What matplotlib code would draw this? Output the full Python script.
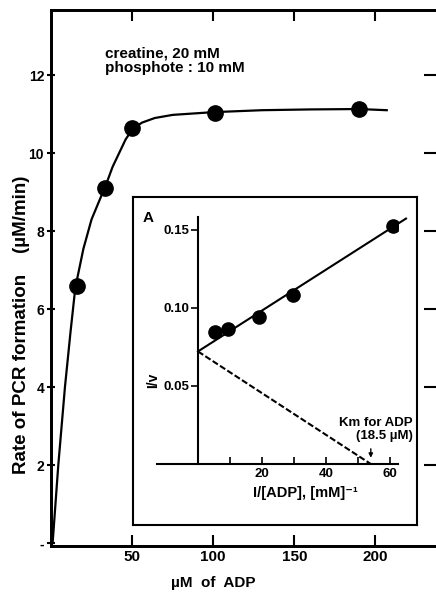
import matplotlib.pyplot as plt

plt.rcParams['font.family'] = ['Liberation Sans', 'DejaVu Sans']
plt.rcParams['font.weight'] = 'bold'

# main plot: rate vs ADP
adp_pts = [16, 33.5, 50, 101, 190]
rate_pts = [6.6, 9.1, 10.65, 11.03, 11.12]
curve_x = [1, 4.5, 8.6, 12, 15, 20, 25, 30, 34, 38, 42, 46, 50, 56, 64, 75, 100, 130, 160, 190, 207]
curve_y = [0, 2.0, 4.0, 5.4, 6.55, 7.55, 8.3, 8.8, 9.2, 9.65, 10.0, 10.35, 10.6, 10.78, 10.9, 10.98, 11.05, 11.1, 11.12, 11.13, 11.1]
x_ticks = [50, 100, 150, 200]
y_ticks = [0, 2, 4, 6, 8, 10, 12]
y_ticklabels = ['-', '2', '4', '6', '8', '10', '12']

# inset: double reciprocal plot
inv_adp = [5.4, 9.5, 19.2, 29.7, 61]
inv_v = [0.0846, 0.0865, 0.094, 0.108, 0.152]
fit_x = [0, 65]
fit_y = [0.072, 0.157]
km_x = [0, 54]
km_y = [0.072, 0]
inset_xticks = [10, 20, 30, 40, 50, 60]
inset_xticklabels = ['', '20', '', '40', '', '60']
inset_yticks = [0.05, 0.10, 0.15]
inset_yticklabels = ['0.05', '0.10', '0.15']

fig = plt.figure(figsize=(4.36, 5.93), dpi=100)
W, H = 436, 593

ax = fig.add_axes([51 / W, (H - 546) / H, (438 - 51) / W, (546 - 10) / H])
ax.plot(curve_x, curve_y, color='black', lw=1.6)
ax.plot(adp_pts, rate_pts, 'o', color='black', ms=11)
ax.set_xlim(0, 238.6)
ax.set_ylim(-0.077, 13.67)
ax.set_xticks(x_ticks)
ax.set_xticklabels([str(t) for t in x_ticks], fontsize=11, fontweight='bold')
ax.set_yticks(y_ticks)
ax.set_yticklabels(y_ticklabels, fontsize=10, fontweight='bold')
ax.tick_params(axis='x', direction='in', top=True, length=8, width=1.5, pad=3)
ax.tick_params(axis='y', direction='inout', length=6, width=1.5, pad=2)
for s in ax.spines.values():
    s.set_linewidth(2)

ax_r = ax.twinx()
ax_r.set_ylim(ax.get_ylim())
ax_r.set_yticks(y_ticks[1:])
ax_r.tick_params(axis='y', direction='in', length=10, width=1.5, labelright=False)
for s in ax_r.spines.values():
    s.set_linewidth(2)

ax.set_ylabel('Rate of PCR formation    (µM/min)', fontsize=13.5, fontweight='bold')
ax.yaxis.set_label_coords(-0.077, 0.412)
ax.yaxis.label.set_va('center')
ax.set_xlabel('µM  of  ADP', fontsize=11, fontweight='bold')
ax.xaxis.set_label_coords(0.419, -0.069)
ax.xaxis.label.set_va('center')
ax.text(0.14, 0.905, 'creatine, 20 mM\nphosphote : 10 mM', transform=ax.transAxes,
        fontsize=11, fontweight='bold', va='center', linespacing=1.05)

# inset frame
box = fig.add_axes([133 / W, (H - 525) / H, (417 - 133) / W, (525 - 197) / H])
box.set_xticks([])
box.set_yticks([])
box.set_facecolor('white')
for s in box.spines.values():
    s.set_linewidth(1.5)

axi = fig.add_axes([157 / W, (H - 464) / H, (398 - 157) / W, (464 - 217) / H])
axi.patch.set_alpha(0)
axi.plot(fit_x, fit_y, color='black', lw=1.5, clip_on=False)
axi.plot(km_x, km_y, color='black', lw=1.5, ls=(0, (3, 1.2)))
axi.plot(inv_adp, inv_v, 'o', color='black', ms=9.5)
axi.set_xlim(-12.8, 62.5)
axi.set_ylim(0, 0.158)
axi.spines['left'].set_position(('data', 0))
axi.spines['top'].set_visible(False)
axi.spines['right'].set_visible(False)
axi.spines['left'].set_linewidth(1.5)
axi.spines['bottom'].set_linewidth(1.5)
axi.set_xticks(inset_xticks)
axi.set_xticklabels(inset_xticklabels, fontsize=9.5, fontweight='bold')
axi.set_yticks(inset_yticks)
axi.set_yticklabels(inset_yticklabels, fontsize=9.5, fontweight='bold')
axi.tick_params(axis='x', direction='in', length=5, width=1.2, pad=3)
axi.tick_params(axis='y', direction='out', length=5, width=1.2, pad=1)

axi.text(67, 0.0218, 'Km for ADP\n(18.5 µM)', ha='right', va='center', multialignment='right',
         fontsize=9.5, fontweight='bold', linespacing=1.1, clip_on=False)
axi.annotate('', xy=(54, 0.0022), xytext=(54, 0.0115),
             arrowprops=dict(arrowstyle='-|>', color='black', lw=1, mutation_scale=6))

fig.text(148 / W, (H - 218) / H, 'A', fontsize=11, fontweight='bold', ha='center', va='center')
fig.text(153 / W, (H - 380) / H, 'I/v', fontsize=10, fontweight='bold', rotation=90,
         ha='center', va='center')
fig.text(305 / W, (H - 493) / H, 'I/[ADP], [mM]⁻¹', fontsize=10.5, fontweight='bold',
         ha='center', va='center')

fig.savefig('out.png', dpi=100)
